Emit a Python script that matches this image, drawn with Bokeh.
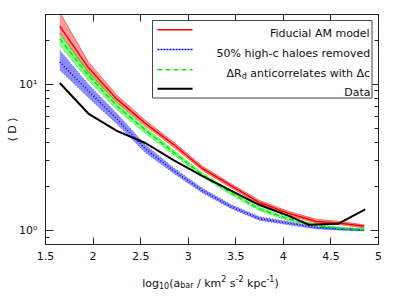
import math
from bokeh.plotting import figure
from bokeh.layouts import column
from bokeh.models import (Range1d, LinearAxis, LogAxis, FixedTicker, Label,
                          BoxAnnotation, Arrow)
from bokeh.embed import file_html
from bokeh.resources import INLINE

# ---------------- data ----------------
x_model = [1.65, 1.95, 2.25, 2.55, 2.85, 3.15, 3.45, 3.75, 4.05, 4.35, 4.6, 4.85]

fid_mid = [25.0, 13.0, 7.9, 5.4, 3.85, 2.65, 2.02, 1.55, 1.31, 1.15, 1.12, 1.065]
fid_lo = [22.3, 12.0, 7.5, 5.2, 3.7, 2.57, 1.96, 1.51, 1.27, 1.12, 1.09, 1.04]
fid_hi = [31.0, 14.2, 8.4, 5.65, 4.0, 2.75, 2.08, 1.6, 1.35, 1.19, 1.15, 1.09]

cut_mid = [14.2, 9.0, 5.8, 3.6, 2.55, 1.87, 1.45, 1.2, 1.12, 1.04, 1.02, 1.0]
cut_lo = [12.5, 8.1, 5.35, 3.4, 2.45, 1.8, 1.41, 1.17, 1.09, 1.02, 1.0, 0.99]
cut_hi = [17.1, 10.0, 6.3, 3.85, 2.67, 1.94, 1.5, 1.24, 1.15, 1.06, 1.04, 1.02]

anti_mid = [20.5, 11.5, 7.1, 4.85, 3.4, 2.4, 1.8, 1.4, 1.2, 1.08, 1.03, 1.01]
anti_lo = [18.5, 10.6, 6.7, 4.6, 3.28, 2.32, 1.75, 1.36, 1.17, 1.05, 1.01, 0.99]
anti_hi = [22.4, 12.4, 7.5, 5.1, 3.53, 2.48, 1.86, 1.44, 1.23, 1.1, 1.05, 1.03]

x_data = [1.65, 1.95, 2.25, 2.55, 2.85, 3.15, 3.45, 3.75, 4.05, 4.27, 4.58, 4.86]
y_data = [10.2, 6.3, 4.8, 3.96, 3.01, 2.35, 1.87, 1.49, 1.26, 1.09, 1.11, 1.39]

x_ticks = [1.5, 2, 2.5, 3, 3.5, 4, 4.5, 5]
x_tick_labels = ["1.5", "2", "2.5", "3", "3.5", "4", "4.5", "5"]
y_ticks = [1, 10]
y_tick_labels = ["10\u2070", "10\u00b9"]
y_minor = [0.9, 2, 3, 4, 5, 6, 7, 8, 9, 20, 30]

legend_rows = [
    [("Fiducial AM model", "n")],
    [("50% high-c haloes removed", "n")],
    [("\u0394R", "n"), ("d", "sub"), (" anticorrelates with \u0394c", "n")],
    [("Data", "n")],
]
xlabel_parts = [("log", "n"), ("10", "sub"), ("(a", "n"), ("bar", "sub"),
                (" / km", "n"), ("2", "sup"), (" s", "n"), ("-2", "sup"),
                (" kpc", "n"), ("-1", "sup"), (")", "n")]
ylabel = "\u27e8 D \u27e9"

# ---------------- styling ----------------
FONT = "DejaVu Sans"
FS = 11
SS = 8
RED, BLUE, GREEN = "#ff0000", "#0000ff", "#00ee00"
X0, X1 = 1.5, 5.0
Y0, Y1 = 0.8, 30.0
FW, FH = 333, 230
TOTAL_W = 391


def dx(sx):  # frame pixel offset -> data x
    return X0 + sx / FW * (X1 - X0)


def dy(sy):  # frame pixel offset (from bottom) -> data y (log axis)
    return 10 ** (math.log10(Y0) + sy / FH * (math.log10(Y1) - math.log10(Y0)))


W = {" ": .318, "\u0394": .684, "R": .695, "d": .635, "a": .613, "n": .634,
     "t": .392, "i": .278, "c": .550, "o": .612, "r": .411, "e": .615,
     "l": .278, "s": .521, "w": .818, "h": .634, "g": .635, "b": .635,
     "k": .579, "m": .974, "p": .635, "/": .337, "(": .390, ")": .390,
     "-": .361, "F": .575, "u": .634, "A": .684, "M": .863, "%": .950,
     "D": .770, "v": .592}
for ch in "0123456789":
    W[ch] = .636


def tw(s, size):
    return sum(W.get(ch, 0.6) for ch in s) * size


p = figure(width=TOTAL_W, height=266, x_range=Range1d(X0, X1),
           y_range=Range1d(Y0, Y1), y_axis_type="log",
           output_backend="svg", toolbar_location=None,
           min_border_left=45, min_border_right=13, min_border_top=14,
           min_border_bottom=22)
p.grid.visible = False
p.outline_line_color = "#222222"

xt = FixedTicker(ticks=x_ticks, minor_ticks=[])
yt = FixedTicker(ticks=y_ticks, minor_ticks=y_minor)


def style_axis(ax, show_labels, standoff=7):
    ax.axis_line_color = "#222222"
    ax.axis_line_width = 1
    ax.major_tick_line_color = "#222222"
    ax.minor_tick_line_color = "#222222"
    ax.major_tick_out = 0
    ax.minor_tick_out = 0
    ax.major_tick_in = 7
    ax.minor_tick_in = 4
    ax.major_label_text_font = FONT
    ax.major_label_text_color = "#111111"
    if show_labels:
        ax.major_label_text_font_size = "11px"
        ax.major_label_standoff = standoff
    else:
        ax.major_label_text_font_size = "1px"
        ax.major_label_text_alpha = 0
        ax.major_label_standoff = 0


xa = p.xaxis[0]
xa.ticker = xt
xa.major_label_overrides = dict(zip(x_ticks, x_tick_labels))
style_axis(xa, True, 7)
ya = p.yaxis[0]
ya.ticker = yt
ya.major_label_overrides = dict(zip(y_ticks, y_tick_labels))
style_axis(ya, True, 8)
ya.major_tick_in = 8
ya.axis_label = ylabel
ya.axis_label_text_font = FONT
ya.axis_label_text_font_size = "11px"
ya.axis_label_text_font_style = "normal"
ya.axis_label_text_color = "#111111"
ya.axis_label_standoff = -3

top = LinearAxis(ticker=xt)
style_axis(top, False)
p.add_layout(top, "above")
right = LogAxis(ticker=yt)
style_axis(right, False)
right.major_tick_in = 8
p.add_layout(right, "right")

# bands
for lo, hi, col, dash, fa in [(fid_lo, fid_hi, RED, "solid", 0.4),
                              (anti_lo, anti_hi, GREEN, "4 2", 0.45),
                              (cut_lo, cut_hi, BLUE, "1 2", 0.45)]:
    p.varea(x=x_model, y1=lo, y2=hi, fill_color=col, fill_alpha=fa)
    p.line(x_model, lo, line_color=col, line_alpha=0.5, line_width=1, line_dash=dash)
    p.line(x_model, hi, line_color=col, line_alpha=0.5, line_width=1, line_dash=dash)

p.line(x_model, fid_mid, line_color=RED, line_width=1.5)
p.line(x_model, cut_mid, line_color=BLUE, line_width=1.5, line_dash="1 2")
p.line(x_model, anti_mid, line_color=GREEN, line_width=1.5, line_dash="5 3")
p.line(x_data, y_data, line_color="black", line_width=2)

# ---------------- legend (drawn by hand, text right aligned) ----------------
p.add_layout(BoxAnnotation(left=dx(107), right=dx(326.5), top=dy(224), bottom=dy(146.5),
                           fill_color="white", fill_alpha=1.0,
                           line_color="#444444", line_width=1, line_alpha=1.0))
line_y = [214.7, 195, 174.7, 155.7]
styles = [(RED, 1.5, "solid"), (BLUE, 1.5, "2 1"), (GREEN, 1.5, "5 3"), ("black", 2, "solid")]
for yy, (col, lw, dash) in zip(line_y, styles):
    p.add_layout(Arrow(end=None, x_start=dx(112), y_start=dy(yy), x_end=dx(147), y_end=dy(yy),
                       line_color=col, line_width=lw, line_dash=dash))


def place(fig, parts, x0, base, sizes, offs, fx, fy):
    for t, k in parts:
        size = sizes[k]
        if t.startswith(" "):
            x0 += tw(" ", size)
            t = t[1:]
        fig.add_layout(Label(x=fx(x0), y=fy(base + offs[k]), text=t,
                             text_font=FONT, text_font_size=f"{size}px",
                             text_color="#111111", text_baseline="alphabetic",
                             text_align="left"))
        x0 += tw(t, size)


right_x = 325
for row, yy in zip(legend_rows, line_y):
    sizes = {"n": FS, "sub": SS}
    total = sum(tw(t, sizes[k]) for t, k in row)
    place(p, row, right_x - total, yy - 4, sizes, {"n": 0, "sub": -3}, dx, dy)

# ---------------- x-axis title strip (real text, sub/superscripts) ----------------
# column() aligns this strip's frame with the main frame, so x is measured from the frame's left edge
q = figure(width=TOTAL_W, height=25, x_range=Range1d(0, FW), y_range=Range1d(0, 25),
           output_backend="svg", toolbar_location=None,
           min_border_left=45, min_border_right=13, min_border_top=0, min_border_bottom=0)
q.axis.visible = False
q.grid.visible = False
q.outline_line_color = None
place(q, xlabel_parts, 96.7, 8.3, {"n": FS, "sub": SS, "sup": SS},
      {"n": 0, "sub": -2.5, "sup": 5}, lambda v: v, lambda v: v)

layout = column(p, q, spacing=0)
open("out.html", "w").write(file_html(layout, INLINE))
